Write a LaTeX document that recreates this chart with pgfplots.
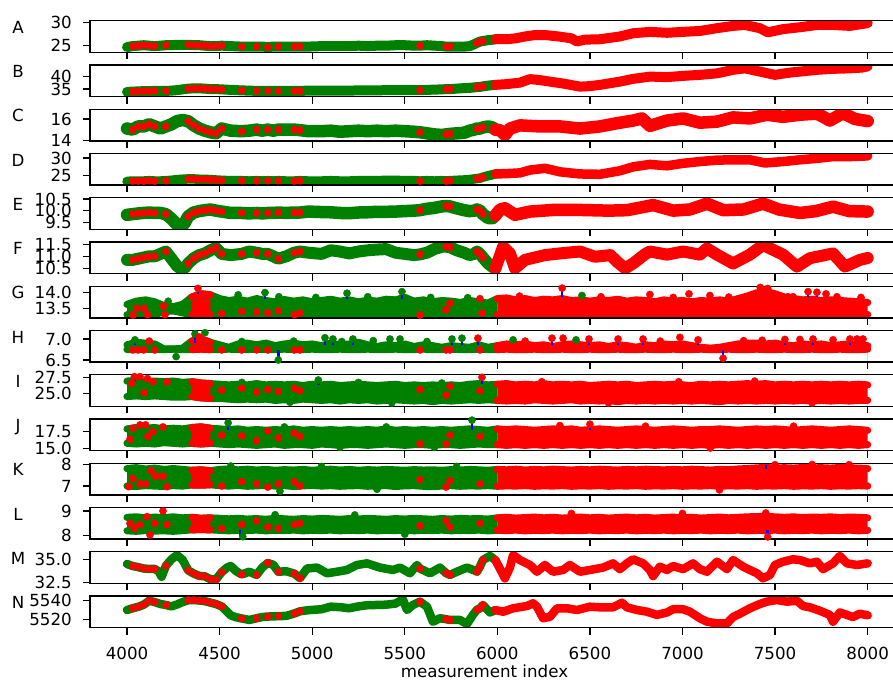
\documentclass[border=0pt]{standalone}
\usepackage{fontspec}
\setmainfont{DejaVu Sans}
\usepackage{pgfplots}
\usepackage{pgfplotstable}
\pgfplotsset{compat=1.18}
\definecolor{cG}{RGB}{0,128,0}
\definecolor{cR}{RGB}{255,0,0}
\definecolor{cB}{RGB}{0,0,255}

\pgfplotsset{
 panel/.style={
   scale only axis, width=814.7bp, height=31.7bp,
   anchor=north west,
   xmin=3800, xmax=8200,
   xtick={4000,4500,5000,5500,6000,6500,7000,7500,8000},
   xticklabels={},
   tick align=outside, xtick pos=left, ytick pos=left,
   major tick length=7bp,
   tick style={line width=1.3bp, black},
   axis line style={line width=1.3bp},
   tick label style={font=\fontsize{16.67bp}{20bp}\selectfont},
   yticklabel style={inner sep=0pt, xshift=-11bp},
   xticklabel style={inner sep=0pt, yshift=-12bp},
   /pgf/number format/assume math mode=true,
   clip mode=global,
   axis on top,
 },
 sc/.style={line width=7.2bp, line join=round, line cap=round},
}
\tikzset{lab/.style={font=\fontsize{16.67bp}{20bp}\selectfont, anchor=base, inner sep=0pt}}

\newcommand{\LP}[2]{%
\addplot[cG, line width=#2, line join=round, line cap=round, restrict x to domain=3990:5995] table[x=x,y=y] {#1};
\addplot[cR, line width=#2, line join=round, line cap=round, restrict x to domain=5985:8010] table[x=x,y=y] {#1};
\addplot[cR, only marks, mark=*, mark size=3.6bp, mark options={fill=cR, draw=cR}, restrict expr to domain={\thisrow{r}}{1:1}] table[x=x,y=y] {#1};
}
\newcommand{\NP}[1]{%
\addplot[draw=none, fill=cG, restrict x to domain=3990:6001] table[x=x,y=hi] {#1} \closedcycle;
\addplot[draw=none, fill=cR, restrict x to domain=5999:8010] table[x=x,y=hi] {#1} \closedcycle;
\addplot[draw=none, fill=cR, restrict x to domain=4340:4460] table[x=x,y=hi] {#1} \closedcycle;
\addplot[draw=none, fill=white] table[x=x,y=lo] {#1} \closedcycle;
\addplot[cG, sc, restrict x to domain=3990:6000] table[x=x,y=hi] {#1};
\addplot[cG, sc, restrict x to domain=3990:6000] table[x=x,y=lo] {#1};
\addplot[cR, sc, restrict x to domain=6000:8010] table[x=x,y=hi] {#1};
\addplot[cR, sc, restrict x to domain=6000:8010] table[x=x,y=lo] {#1};
\addplot[cR, sc, restrict x to domain=4340:4460] table[x=x,y=hi] {#1};
\addplot[cR, sc, restrict x to domain=4340:4460] table[x=x,y=lo] {#1};
}
\newcommand{\Dots}[2]{\addplot[#1, only marks, mark=*, mark size=3.6bp, mark options={fill=#1, draw=#1}] coordinates {#2};}
\newcommand{\Stems}[1]{\addplot[cB, line width=2.4bp, unbounded coords=jump] coordinates {#1};}

% ---------- data ----------
\pgfplotstableread{
x y r
4000 24.7 0
4030 24.9 1
4060 25.0 1
4090 25.1 1
4120 25.0 1
4150 24.9 1
4180 25.0 0
4210 25.1 1
4240 25.1 0
4270 25.2 0
4300 25.2 0
4330 25.2 1
4360 25.1 1
4390 25.1 1
4420 25.0 1
4450 24.9 1
4480 24.9 1
4511 25.0 1
4560 24.9 0
4619 24.8 1
4660 24.8 0
4700 24.8 1
4730 24.8 0
4760 24.7 1
4790 24.8 0
4817 24.8 1
4860 24.8 0
4903 24.8 1
4934 24.8 1
4980 24.8 0
5050 24.9 0
5100 24.9 0
5150 24.9 0
5200 24.9 0
5250 25.0 0
5300 24.9 0
5350 25.0 0
5400 25.0 0
5450 25.1 0
5500 25.1 0
5550 25.0 0
5582 25.0 1
5620 25.1 0
5660 25.0 0
5700 24.9 0
5723 24.8 1
5744 24.8 1
5780 24.8 0
5820 24.8 0
5850 24.9 0
5875 25.3 0
5890 25.6 1
5906 25.9 1
5922 26.0 1
5950 26.2 0
5975 26.3 0
5990 26.4 0
6050 26.4 0
6100 26.6 0
6150 27.0 0
6200 27.3 0
6260 27.3 0
6330 27.0 0
6400 26.6 0
6430 25.9 0
6470 26.3 0
6554 26.4 0
6662 27.0 0
6733 27.7 0
6824 28.0 0
6916 27.8 0
7003 28.0 0
7094 28.2 0
7186 28.8 0
7273 29.3 0
7337 29.5 0
7418 28.8 0
7461 27.9 0
7543 28.6 0
7634 29.0 0
7726 29.5 0
7813 29.5 0
7904 29.3 0
7969 29.7 0
8000 29.9 0
}\tA

\pgfplotstableread{
x y r
4000 33.9 0
4030 34.0 1
4060 34.1 1
4090 34.2 1
4120 34.2 1
4150 34.3 1
4180 34.3 0
4210 34.3 1
4240 34.4 0
4270 34.6 0
4300 34.9 0
4330 35.2 1
4360 35.3 1
4390 35.3 1
4420 35.2 1
4450 35.0 1
4480 35.0 1
4511 34.9 1
4560 34.7 0
4619 34.5 1
4660 34.4 0
4700 34.3 1
4730 34.3 0
4760 34.3 1
4790 34.3 0
4817 34.3 1
4860 34.3 0
4903 34.3 1
4934 34.3 1
4980 34.4 0
5050 34.4 0
5100 34.4 0
5150 34.4 0
5200 34.4 0
5250 34.5 0
5300 34.5 0
5350 34.5 0
5400 34.6 0
5450 34.6 0
5500 34.6 0
5550 34.6 0
5582 34.6 1
5620 34.7 0
5660 34.8 0
5700 34.9 0
5723 35.0 1
5744 35.0 1
5780 35.2 0
5820 35.4 0
5850 35.5 0
5875 35.7 0
5890 35.8 1
5906 35.9 1
5922 36.1 1
5950 36.4 0
5975 36.6 0
5990 36.7 0
6050 37.0 0
6122 37.6 0
6176 39.0 0
6230 38.6 0
6284 38.0 0
6350 37.3 0
6446 36.0 0
6500 36.2 0
6554 36.7 0
6662 38.0 0
6733 39.1 0
6824 40.0 0
6916 39.8 0
7003 40.3 0
7094 40.7 0
7186 41.3 0
7273 42.7 0
7337 43.3 0
7418 42.0 0
7499 40.7 0
7580 41.6 0
7634 42.0 0
7726 42.7 0
7813 43.1 0
7904 43.3 0
7969 43.6 0
8000 44.1 0
}\tB

\pgfplotstableread{
x y r
4000 15.1 0
4030 15.0 1
4060 15.3 1
4090 15.3 1
4120 15.5 1
4150 15.3 1
4180 15.1 0
4210 15.3 1
4240 15.5 0
4270 15.8 0
4300 15.9 0
4330 15.8 1
4360 15.4 1
4390 15.1 1
4420 14.9 1
4450 14.75 1
4480 14.65 1
4511 15.1 1
4560 14.9 0
4619 14.85 1
4660 14.9 0
4700 15.0 1
4730 14.9 0
4760 15.0 1
4790 14.9 0
4817 15.0 1
4860 15.0 0
4903 15.0 1
4934 14.95 1
4980 14.85 0
5050 14.85 0
5100 14.9 0
5150 14.8 0
5200 14.85 0
5250 14.9 0
5300 14.85 0
5350 14.9 0
5400 14.85 0
5450 14.9 0
5500 14.85 0
5550 14.8 0
5582 14.75 1
5620 14.65 0
5660 14.55 0
5700 14.5 0
5723 14.55 1
5744 14.6 1
5780 14.65 0
5820 14.7 0
5850 14.9 0
5875 15.0 0
5890 15.1 1
5906 15.1 1
5922 15.2 1
5950 15.3 0
5975 15.2 0
5990 15.0 0
6014 14.95 0
6041 14.5 0
6068 15.1 0
6122 15.4 0
6176 15.35 0
6230 15.3 0
6338 15.3 0
6446 15.1 0
6554 15.3 0
6646 15.6 0
6733 15.85 0
6781 16.05 0
6824 15.35 0
6916 15.85 0
7003 16.05 0
7094 15.65 0
7186 15.75 0
7273 16.15 0
7364 16.05 0
7456 16.4 0
7543 16.2 0
7634 16.4 0
7726 16.5 0
7760 16.2 0
7796 15.85 0
7866 16.55 0
7931 16.0 0
8000 15.8 0
}\tC

\pgfplotstableread{
x y r
4000 23.4 0
4030 23.5 1
4060 23.5 1
4090 23.5 1
4120 23.6 1
4150 23.5 1
4180 23.5 0
4210 23.6 1
4240 23.7 0
4270 23.9 0
4300 24.0 0
4330 24.1 1
4360 24.1 1
4390 24.0 1
4420 24.0 1
4450 23.9 1
4480 23.8 1
4511 23.7 1
4560 23.6 0
4619 23.6 1
4660 23.5 0
4700 23.6 1
4730 23.5 0
4760 23.6 1
4790 23.5 0
4817 23.6 1
4860 23.5 0
4903 23.5 1
4934 23.6 1
4980 23.5 0
5050 23.5 0
5100 23.6 0
5150 23.5 0
5200 23.5 0
5250 23.6 0
5300 23.6 0
5350 23.6 0
5400 23.7 0
5450 23.7 0
5500 23.6 0
5550 23.6 0
5582 23.5 1
5620 23.6 0
5660 23.5 0
5700 23.6 0
5723 23.5 1
5744 23.6 1
5780 23.7 0
5820 23.8 0
5850 23.9 0
5875 24.1 0
5890 24.2 1
5906 24.3 1
5922 24.6 1
5950 25.0 0
5975 25.3 0
5990 25.5 0
6050 25.6 0
6122 25.8 0
6176 26.6 0
6257 27.1 0
6338 26.1 0
6446 25.5 0
6554 25.4 0
6662 26.4 0
6733 27.5 0
6824 28.2 0
6916 27.8 0
7003 28.5 0
7094 29.0 0
7186 29.4 0
7273 29.5 0
7364 29.5 0
7445 28.6 0
7543 29.0 0
7634 29.5 0
7726 29.9 0
7813 30.4 0
7904 30.4 0
8000 30.6 0
}\tD

\pgfplotstableread{
x y r
4000 9.82 0
4030 9.85 1
4060 9.88 1
4090 9.90 1
4120 9.92 1
4150 9.90 1
4180 9.90 0
4210 9.85 1
4240 9.65 0
4270 9.40 0
4290 9.32 0
4310 9.45 0
4330 9.75 1
4360 9.92 1
4390 9.98 1
4420 10.02 1
4450 10.05 1
4480 10.00 1
4511 9.96 1
4560 9.90 0
4619 9.90 1
4660 9.88 0
4700 9.90 1
4730 9.88 0
4760 9.90 1
4790 9.90 0
4817 9.92 1
4860 9.90 0
4903 9.92 1
4934 9.92 1
4980 9.96 0
5050 9.94 0
5100 9.93 0
5150 9.90 0
5200 9.89 0
5250 9.92 0
5300 9.93 0
5350 9.95 0
5400 9.95 0
5450 9.96 0
5500 9.98 0
5550 10.00 0
5582 10.02 1
5620 10.08 0
5660 10.12 0
5700 10.18 0
5723 10.20 1
5744 10.18 1
5780 10.10 0
5820 10.02 0
5850 9.98 0
5875 10.00 0
5890 10.05 1
5906 10.00 1
5922 9.85 1
5950 9.68 0
5975 9.68 0
5990 9.80 0
6015 10.05 0
6041 10.10 0
6095 9.82 0
6176 9.96 0
6300 10.03 0
6450 10.03 0
6600 10.00 0
6700 10.02 0
6841 10.24 0
6950 10.00 0
7040 10.05 0
7132 10.30 0
7220 10.02 0
7330 10.05 0
7435 10.30 0
7520 10.05 0
7634 9.90 0
7720 9.98 0
7813 10.17 0
7900 9.98 0
8000 9.96 0
}\tE

\pgfplotstableread{
x y r
4000 10.85 0
4030 10.85 1
4060 10.90 1
4090 10.95 1
4120 11.00 1
4150 11.00 1
4180 11.10 0
4210 11.20 1
4240 10.90 0
4270 10.60 0
4290 10.48 0
4310 10.50 0
4330 10.70 1
4360 10.92 1
4390 11.05 1
4420 11.12 1
4450 11.25 1
4480 11.35 1
4511 11.10 1
4560 11.05 0
4619 11.10 1
4660 11.20 0
4700 11.15 1
4730 11.10 0
4760 11.10 1
4790 11.00 0
4817 10.90 1
4860 11.00 0
4903 11.15 1
4934 11.20 1
4980 11.15 0
5050 11.10 0
5100 11.25 0
5150 11.20 0
5200 11.12 0
5250 11.20 0
5300 11.25 0
5350 11.28 0
5400 11.30 0
5450 11.15 0
5500 11.10 0
5550 11.05 0
5582 11.08 1
5620 11.15 0
5660 11.30 0
5700 11.40 0
5723 11.40 1
5744 11.38 1
5780 11.25 0
5820 11.15 0
5850 11.05 0
5875 11.10 0
5890 11.20 1
5906 11.10 1
5922 10.95 1
5950 10.70 0
5975 10.55 0
5990 10.50 0
6031 11.40 0
6068 11.12 0
6095 10.50 0
6149 10.85 0
6257 11.05 0
6338 11.12 0
6446 11.20 0
6527 10.98 0
6610 11.05 0
6650 10.75 0
6690 10.50 0
6733 10.70 0
6800 11.10 0
6824 11.20 0
6916 11.07 0
7003 11.20 0
7094 11.07 0
7132 11.33 0
7186 11.07 0
7273 10.70 0
7364 11.07 0
7435 11.47 0
7543 11.07 0
7618 10.57 0
7688 10.92 0
7813 11.12 0
7877 10.57 0
7958 10.85 0
8000 10.93 0
}\tF

\pgfplotstableread{
x lo hi
4000 13.30 13.62
4050 13.30 13.72
4100 13.30 13.76
4150 13.30 13.70
4200 13.40 13.58
4250 13.42 13.55
4300 13.36 13.62
4350 13.30 13.85
4400 13.30 13.95
4450 13.30 13.92
4500 13.30 13.80
4550 13.30 13.74
4600 13.30 13.78
4650 13.30 13.72
4700 13.30 13.80
4750 13.30 13.74
4800 13.30 13.70
4850 13.30 13.77
4900 13.30 13.72
4950 13.30 13.76
5000 13.30 13.70
5050 13.30 13.74
5100 13.30 13.78
5150 13.30 13.72
5200 13.30 13.76
5250 13.30 13.70
5300 13.30 13.75
5350 13.30 13.72
5400 13.30 13.78
5450 13.30 13.76
5500 13.30 13.84
5550 13.30 13.72
5600 13.30 13.76
5650 13.30 13.70
5700 13.30 13.74
5750 13.30 13.72
5800 13.30 13.68
5850 13.30 13.74
5900 13.30 13.70
5950 13.30 13.66
6000 13.30 13.80
6050 13.30 13.82
6100 13.30 13.76
6150 13.30 13.80
6200 13.30 13.74
6250 13.30 13.78
6300 13.30 13.76
6350 13.30 13.80
6400 13.30 13.74
6450 13.30 13.76
6500 13.30 13.72
6550 13.30 13.76
6600 13.30 13.74
6650 13.30 13.78
6700 13.30 13.72
6750 13.30 13.76
6800 13.30 13.74
6850 13.30 13.70
6900 13.30 13.76
6950 13.30 13.72
7000 13.30 13.74
7050 13.30 13.70
7100 13.30 13.74
7150 13.30 13.72
7200 13.30 13.76
7250 13.30 13.72
7300 13.30 13.80
7350 13.30 13.88
7400 13.30 13.98
7450 13.30 14.02
7500 13.30 13.95
7550 13.30 13.85
7600 13.30 13.80
7650 13.30 13.76
7700 13.30 13.78
7750 13.30 13.74
7800 13.30 13.76
7850 13.30 13.74
7900 13.30 13.72
7950 13.30 13.70
8000 13.30 13.68
}\tG

\pgfplotstableread{
x lo hi
4000 6.75 6.86
4050 6.75 6.92
4100 6.76 6.90
4150 6.75 6.88
4200 6.75 6.76
4250 6.76 6.76
4300 6.75 6.78
4350 6.75 6.95
4400 6.76 7.00
4450 6.75 6.92
4500 6.75 6.86
4550 6.76 6.80
4600 6.75 6.88
4650 6.75 6.90
4700 6.76 6.86
4750 6.75 6.90
4800 6.75 6.84
4850 6.76 6.88
4900 6.75 6.90
4950 6.75 6.86
5000 6.76 6.88
5050 6.75 6.84
5100 6.75 6.90
5150 6.76 6.86
5200 6.75 6.88
5250 6.75 6.92
5300 6.76 6.86
5350 6.75 6.82
5400 6.75 6.86
5450 6.76 6.84
5500 6.75 6.88
5550 6.75 6.82
5600 6.76 6.86
5650 6.75 6.84
5700 6.75 6.80
5750 6.76 6.84
5800 6.75 6.82
5850 6.75 6.80
5900 6.76 6.86
5950 6.75 6.80
6000 6.75 6.84
6050 6.76 6.88
6100 6.75 6.86
6150 6.75 6.88
6200 6.76 6.84
6250 6.75 6.86
6300 6.75 6.82
6350 6.76 6.86
6400 6.75 6.88
6450 6.75 6.86
6500 6.76 6.84
6550 6.75 6.86
6600 6.75 6.82
6650 6.76 6.86
6700 6.75 6.84
6750 6.75 6.80
6800 6.76 6.86
6850 6.75 6.84
6900 6.75 6.88
6950 6.76 6.86
7000 6.75 6.88
7050 6.75 6.84
7100 6.76 6.80
7150 6.75 6.78
7200 6.75 6.80
7250 6.76 6.84
7300 6.75 6.88
7350 6.75 6.90
7400 6.76 6.90
7450 6.75 6.88
7500 6.75 6.90
7550 6.76 6.86
7600 6.75 6.84
7650 6.75 6.88
7700 6.76 6.86
7750 6.75 6.88
7800 6.75 6.84
7850 6.76 6.86
7900 6.75 6.88
7950 6.75 6.86
8000 6.76 6.84
}\tH

\pgfplotstableread{
x lo hi
4000 24.5 26.9
4050 24.6 27.0
4100 24.5 26.8
4150 24.6 26.9
4200 24.5 26.8
4250 24.4 26.9
4300 24.4 26.7
4350 24.5 26.8
4400 24.3 26.6
4450 24.2 26.5
4500 24.2 26.4
4550 24.1 26.3
4600 24.0 26.4
4650 24.1 26.3
4700 24.0 26.5
4750 24.1 26.3
4800 23.9 26.4
4850 24.0 26.3
4900 23.9 26.4
4950 24.1 26.2
5000 24.0 26.4
5050 23.9 26.3
5100 24.0 26.4
5150 23.8 26.2
5200 24.0 26.3
5250 23.9 26.4
5300 24.0 26.3
5350 23.8 26.2
5400 23.9 26.3
5450 24.0 26.4
5500 23.9 26.2
5550 23.8 26.3
5600 23.9 26.2
5650 23.7 26.3
5700 23.9 26.2
5750 23.8 26.3
5800 23.9 26.2
5850 24.0 26.4
5900 23.9 26.5
5950 24.0 26.3
6000 23.9 26.4
6050 23.8 26.5
6100 23.9 26.3
6150 23.8 26.4
6200 24.0 26.3
6250 23.9 26.5
6300 23.8 26.3
6350 23.9 26.4
6400 24.0 26.3
6450 23.8 26.4
6500 23.9 26.2
6550 23.8 26.3
6600 23.9 26.4
6650 23.7 26.3
6700 23.9 26.4
6750 23.8 26.2
6800 23.9 26.3
6850 23.8 26.4
6900 23.9 26.3
6950 23.8 26.4
7000 23.9 26.3
7050 23.8 26.2
7100 23.9 26.4
7150 23.8 26.3
7200 23.7 26.4
7250 23.9 26.3
7300 23.8 26.4
7350 23.9 26.5
7400 23.8 26.4
7450 23.9 26.5
7500 23.8 26.3
7550 23.9 26.4
7600 23.8 26.3
7650 23.9 26.4
7700 23.8 26.3
7750 23.9 26.4
7800 23.8 26.3
7850 23.9 26.4
7900 23.8 26.3
7950 23.9 26.4
8000 23.9 26.3
}\tI

\pgfplotstableread{
x lo hi
4000 15.8 17.9
4050 15.7 18.1
4100 15.8 18.0
4150 15.7 18.1
4200 15.9 17.9
4250 15.8 18.0
4300 15.7 17.9
4350 15.8 18.1
4400 15.7 18.2
4450 15.8 18.0
4500 15.7 17.9
4550 15.6 17.8
4600 15.7 17.9
4650 15.6 17.7
4700 15.5 17.8
4750 15.6 17.7
4800 15.7 17.8
4850 15.5 17.7
4900 15.6 17.9
4950 15.6 17.7
5000 15.5 17.8
5050 15.7 17.7
5100 15.6 17.8
5150 15.5 17.7
5200 15.6 17.8
5250 15.6 17.7
5300 15.5 17.8
5350 15.6 17.7
5400 15.7 17.9
5450 15.6 17.7
5500 15.5 17.8
5550 15.6 17.7
5600 15.6 17.8
5650 15.5 17.7
5700 15.6 17.8
5750 15.6 17.7
5800 15.5 17.8
5850 15.6 17.9
5900 15.7 17.8
5950 15.6 17.7
6000 15.6 17.9
6050 15.5 17.8
6100 15.6 17.9
6150 15.5 17.8
6200 15.6 17.7
6250 15.5 17.8
6300 15.6 17.9
6350 15.5 17.8
6400 15.6 17.9
6450 15.5 17.7
6500 15.6 17.8
6550 15.5 17.9
6600 15.6 17.8
6650 15.5 17.7
6700 15.6 17.8
6750 15.5 17.9
6800 15.6 17.8
6850 15.5 17.7
6900 15.6 17.8
6950 15.5 17.9
7000 15.6 17.8
7050 15.5 17.7
7100 15.6 17.8
7150 15.5 17.8
7200 15.6 17.9
7250 15.5 17.8
7300 15.6 17.7
7350 15.5 17.8
7400 15.6 17.9
7450 15.5 17.8
7500 15.6 17.9
7550 15.5 17.8
7600 15.6 17.7
7650 15.5 17.8
7700 15.6 17.9
7750 15.5 17.8
7800 15.6 17.7
7850 15.5 17.8
7900 15.6 17.9
7950 15.5 17.8
8000 15.6 17.7
}\tJ

\pgfplotstableread{
x lo hi
4000 7.00 7.80
4050 6.98 7.84
4100 7.02 7.78
4150 7.00 7.82
4200 6.98 7.76
4250 7.02 7.80
4300 7.00 7.76
4350 7.05 7.72
4400 7.04 7.74
4450 7.06 7.70
4500 7.02 7.76
4550 7.00 7.78
4600 7.03 7.74
4650 6.99 7.77
4700 7.01 7.73
4750 7.03 7.76
4800 7.00 7.72
4850 7.02 7.75
4900 6.98 7.73
4950 7.01 7.76
5000 7.03 7.72
5050 7.00 7.75
5100 7.02 7.77
5150 6.99 7.73
5200 7.01 7.76
5250 7.02 7.72
5300 6.99 7.75
5350 7.01 7.73
5400 7.02 7.76
5450 6.98 7.74
5500 7.01 7.72
5550 7.02 7.75
5600 6.99 7.73
5650 6.97 7.74
5700 7.00 7.72
5750 7.02 7.75
5800 6.99 7.73
5850 7.01 7.76
5900 7.00 7.74
5950 7.02 7.72
6000 6.99 7.76
6050 7.01 7.74
6100 7.00 7.77
6150 7.02 7.73
6200 6.99 7.76
6250 7.01 7.74
6300 7.00 7.77
6350 7.02 7.75
6400 6.99 7.73
6450 7.01 7.76
6500 7.00 7.74
6550 7.02 7.77
6600 6.99 7.75
6650 7.01 7.73
6700 7.00 7.76
6750 7.02 7.74
6800 6.99 7.77
6850 7.01 7.75
6900 7.00 7.74
6950 7.02 7.76
7000 6.99 7.74
7050 7.01 7.77
7100 7.00 7.75
7150 7.02 7.73
7200 6.99 7.76
7250 7.01 7.75
7300 7.00 7.78
7350 7.02 7.80
7400 6.99 7.83
7450 7.01 7.85
7500 7.00 7.82
7550 7.02 7.84
7600 6.99 7.82
7650 7.01 7.85
7700 7.00 7.83
7750 7.02 7.84
7800 6.99 7.82
7850 7.01 7.85
7900 7.00 7.83
7950 7.02 7.82
8000 7.00 7.80
}\tK

\pgfplotstableread{
x lo hi
4000 8.20 8.74
4050 8.18 8.76
4100 8.21 8.72
4150 8.19 8.75
4200 8.20 8.73
4250 8.18 8.76
4300 8.21 8.72
4350 8.24 8.74
4400 8.25 8.70
4450 8.24 8.72
4500 8.22 8.70
4550 8.20 8.68
4600 8.22 8.70
4650 8.21 8.67
4700 8.23 8.69
4750 8.20 8.66
4800 8.22 8.70
4850 8.21 8.68
4900 8.23 8.66
4950 8.20 8.69
5000 8.22 8.67
5050 8.21 8.70
5100 8.23 8.68
5150 8.20 8.66
5200 8.22 8.69
5250 8.21 8.67
5300 8.23 8.70
5350 8.20 8.68
5400 8.22 8.66
5450 8.21 8.69
5500 8.23 8.67
5550 8.20 8.70
5600 8.22 8.68
5650 8.21 8.66
5700 8.23 8.69
5750 8.20 8.67
5800 8.22 8.70
5850 8.21 8.68
5900 8.23 8.69
5950 8.20 8.67
6000 8.22 8.72
6050 8.21 8.74
6100 8.23 8.71
6150 8.20 8.73
6200 8.22 8.75
6250 8.21 8.72
6300 8.23 8.74
6350 8.20 8.71
6400 8.22 8.73
6450 8.21 8.75
6500 8.23 8.72
6550 8.20 8.74
6600 8.22 8.71
6650 8.21 8.73
6700 8.23 8.75
6750 8.20 8.72
6800 8.22 8.74
6850 8.21 8.71
6900 8.23 8.73
6950 8.20 8.75
7000 8.22 8.72
7050 8.21 8.74
7100 8.23 8.71
7150 8.20 8.73
7200 8.22 8.75
7250 8.21 8.72
7300 8.23 8.74
7350 8.20 8.76
7400 8.22 8.77
7450 8.21 8.78
7500 8.23 8.76
7550 8.20 8.74
7600 8.22 8.76
7650 8.21 8.73
7700 8.23 8.75
7750 8.20 8.74
7800 8.22 8.76
7850 8.21 8.73
7900 8.23 8.75
7950 8.20 8.74
8000 8.22 8.72
}\tL

\pgfplotstableread{
x y r
4000 34.49 0
4030 34.27 1
4060 34.15 1
4090 34.00 1
4120 33.95 1
4150 33.95 1
4170 33.70 0
4187 33.10 0
4210 34.30 1
4240 35.00 0
4270 35.45 0
4300 34.95 0
4330 33.80 1
4360 33.45 1
4390 33.20 1
4420 33.15 1
4450 32.85 1
4480 32.80 1
4511 33.60 1
4540 34.10 0
4560 34.27 0
4590 33.70 0
4619 33.35 1
4660 33.65 0
4700 33.30 1
4730 34.10 0
4760 34.60 1
4790 34.40 0
4817 33.65 1
4860 33.70 0
4903 33.45 1
4934 32.95 1
4972 34.00 0
5026 34.10 0
5080 33.48 0
5134 33.65 0
5188 33.84 0
5242 34.38 0
5296 34.56 0
5366 34.10 0
5436 33.84 0
5474 34.10 0
5528 33.48 0
5566 34.38 0
5582 34.00 1
5598 33.84 0
5636 33.48 0
5690 34.10 0
5723 33.50 1
5744 33.30 1
5782 33.65 0
5836 34.10 0
5875 33.80 0
5890 33.65 1
5906 34.20 1
5922 34.92 1
5960 35.36 0
5990 34.90 0
6041 32.93 0
6068 34.10 0
6085 35.47 0
6122 34.92 0
6176 34.38 0
6214 33.65 0
6257 34.38 0
6301 33.65 0
6355 33.84 0
6392 34.38 0
6446 33.65 0
6500 33.84 0
6571 34.10 0
6625 34.56 0
6662 33.93 0
6700 34.56 0
6733 35.00 0
6787 34.56 0
6824 33.84 0
6841 33.18 0
6878 34.20 0
6916 33.84 0
6949 34.27 0
7003 33.93 0
7057 34.56 0
7094 33.93 0
7132 33.65 0
7186 34.74 0
7240 33.93 0
7273 34.92 0
7327 34.20 0
7364 33.84 0
7402 33.48 0
7435 32.93 0
7472 33.30 0
7499 34.38 0
7543 34.74 0
7597 35.00 0
7634 34.92 0
7688 34.56 0
7726 34.74 0
7759 33.93 0
7813 34.56 0
7850 35.36 0
7888 34.56 0
7942 34.38 0
8000 34.56 0
}\tM

\pgfplotstableread{
x y r
4000 5530.2 0
4030 5532.0 1
4060 5533.5 1
4090 5535.8 1
4120 5540.0 1
4150 5538.5 1
4180 5536.5 0
4210 5535.5 1
4240 5534.0 0
4270 5536.0 0
4300 5538.5 0
4330 5540.5 1
4360 5540.7 1
4390 5540.2 1
4420 5539.5 1
4450 5538.0 1
4480 5536.5 1
4511 5534.0 1
4540 5528.5 0
4560 5524.5 0
4590 5522.5 0
4619 5521.3 1
4660 5519.7 0
4700 5521.5 1
4730 5522.8 0
4760 5523.3 1
4790 5523.5 0
4817 5523.7 1
4860 5524.0 0
4903 5526.5 1
4934 5528.8 1
4980 5530.0 0
5050 5531.0 0
5100 5533.7 0
5150 5533.2 0
5200 5532.0 0
5250 5534.0 0
5300 5535.3 0
5350 5535.5 0
5400 5535.8 0
5450 5537.0 0
5490 5541.4 0
5512 5530.2 0
5544 5535.5 0
5582 5539.0 1
5620 5533.7 0
5652 5517.9 0
5690 5521.5 0
5723 5520.5 1
5744 5519.7 1
5798 5519.7 0
5836 5515.5 0
5868 5525.0 0
5890 5530.5 1
5906 5532.0 1
5922 5535.5 1
5960 5527.6 0
5990 5530.2 0
6031 5528.4 0
6085 5532.0 0
6160 5534.4 0
6193 5537.3 0
6214 5533.7 0
6247 5521.5 0
6284 5523.0 0
6322 5532.0 0
6376 5532.0 0
6430 5530.2 0
6500 5533.7 0
6554 5533.0 0
6592 5533.0 0
6625 5533.0 0
6673 5537.9 0
6700 5533.0 0
6754 5530.2 0
6808 5528.4 0
6862 5525.0 0
6916 5527.6 0
6949 5531.0 0
7003 5531.0 0
7040 5528.4 0
7094 5521.5 0
7132 5517.9 0
7186 5516.1 0
7240 5516.1 0
7273 5522.8 0
7310 5526.3 0
7364 5532.0 0
7418 5536.5 0
7456 5539.0 0
7510 5540.7 0
7564 5539.0 0
7618 5539.9 0
7651 5534.4 0
7688 5533.0 0
7742 5529.4 0
7796 5525.0 0
7813 5517.9 0
7850 5527.6 0
7888 5525.0 0
7920 5522.8 0
7958 5526.3 0
8000 5524.6 0
}\tN

\begin{document}
\begin{tikzpicture}[x=1bp,y=1bp]
% A
\begin{axis}[panel, at={(90bp,659.3bp)}, ymin=23.54, ymax=30.43, ytick={25,30}, yticklabels={25,30}]
\LP{\tA}{10bp}
\end{axis}
% B
\begin{axis}[panel, at={(90bp,615.05bp)}, ymin=32.0, ymax=44.66, ytick={35,40}, yticklabels={35,40}]
\LP{\tB}{10bp}
\end{axis}
% C
\begin{axis}[panel, at={(90bp,570.8bp)}, ymin=13.94, ymax=16.92, ytick={14,16}, yticklabels={14,16}]
\LP{\tC}{12.5bp}
\end{axis}
% D
\begin{axis}[panel, at={(90bp,526.55bp)}, ymin=22.34, ymax=31.29, ytick={25,30}, yticklabels={25,30}]
\LP{\tD}{9.5bp}
\end{axis}
% E
\begin{axis}[panel, at={(90bp,482.3bp)}, ymin=9.195, ymax=10.556, ytick={9.5,10,10.5}, yticklabels={9.5,10.0,10.5}]
\LP{\tE}{12.5bp}
\end{axis}
% F
\begin{axis}[panel, at={(90bp,438.05bp)}, ymin=10.277, ymax=11.598, ytick={10.5,11,11.5}, yticklabels={10.5,11.0,11.5}]
\LP{\tF}{12bp}
\end{axis}
% G
\begin{axis}[panel, at={(90bp,393.8bp)}, ymin=13.2, ymax=14.19, ytick={13.5,14}, yticklabels={13.5,14.0}]
\NP{\tG}
\Stems{(4745,13.8) (4745,13.99) (4745,nan) (5188,13.8) (5188,13.97) (5188,nan) (5485,13.8) (5485,14.02) (5485,nan) (6350,13.85) (6350,14.13) (6350,nan) (6457,13.8) (6457,13.9) (6457,nan) (7678,13.85) (7678,14.02) (7678,nan) (7726,13.85) (7726,14.0) (7726,nan) (4383,13.95) (4383,14.12)}
\Dots{cG}{(4600,13.92) (4745,13.99) (5188,13.97) (5485,14.02) (4222,13.72) (6457,13.9) (4820,13.86) (5020,13.84) (5300,13.86) (5640,13.84) (5840,13.83)}
\Dots{cR}{(4032,13.29) (4054,13.50) (4092,13.50) (4110,13.30) (4197,13.57) (4205,13.30) (4383,14.12) (4511,13.34) (4619,13.40) (4700,13.39) (4760,13.36) (4817,13.42) (4903,13.30) (4934,13.35) (5582,13.29) (5721,13.45) (5744,13.66) (5906,13.80) (5917,13.35) (6350,14.13) (6824,13.93) (7035,13.95) (7148,13.90) (7570,13.86) (7597,13.86) (7678,14.02) (7726,14.00) (7775,13.95) (7834,13.86) (7964,13.84) (7420,14.15) (7460,14.12) (6120,13.88) (6560,13.86) (6950,13.84) (7250,13.85)}
\end{axis}
% H
\begin{axis}[panel, at={(90bp,349.55bp)}, ymin=6.449, ymax=7.204, ytick={6.5,7}, yticklabels={6.5,7.0}]
\NP{\tH}
\Stems{(4043,6.85) (4043,6.98) (4043,nan) (4367,6.9) (4367,7.12) (4367,nan) (5069,6.85) (5069,7.03) (5069,nan) (5112,6.85) (5112,7.0) (5112,nan) (5220,6.85) (5220,7.0) (5220,nan) (5755,6.85) (5755,7.0) (5755,nan) (5809,6.85) (5809,7.02) (5809,nan) (5895,6.85) (5895,7.02) (5895,nan) (6295,6.85) (6295,7.02) (6295,nan) (6495,6.85) (6495,7.0) (6495,nan) (6652,6.85) (6652,7.0) (6652,nan) (6787,6.85) (6787,7.0) (6787,nan) (7084,6.85) (7084,6.98) (7084,nan) (7553,6.85) (7553,6.99) (7553,nan) (7705,6.85) (7705,7.0) (7705,nan) (7904,6.85) (7904,7.0) (7904,nan) (4817,6.75) (4817,6.5) (4817,nan) (7219,6.75) (7219,6.54)}
\Dots{cG}{(4043,6.98) (4367,7.12) (4421,7.15) (5069,7.03) (5112,7.0) (5220,7.0) (5420,7.0) (5474,7.0) (5755,7.0) (5809,7.02) (6085,6.98) (6425,6.98) (4265,6.58) (4817,6.50) (4620,6.94) (4900,6.95) (5160,6.94) (5330,6.96) (5620,6.94)}
\Dots{cR}{(4120,6.95) (4390,7.05) (5895,7.02) (6295,7.02) (6355,7.02) (6495,7.0) (6652,7.0) (6787,7.0) (6986,7.04) (7084,6.98) (7553,6.99) (7634,6.99) (7705,7.0) (7813,6.98) (7904,7.0) (7942,7.0) (7975,7.0) (7219,6.54) (4030,6.74) (4060,6.74) (4090,6.74) (4150,6.74) (4511,6.74) (4619,6.74) (4700,6.74) (4760,6.74) (4903,6.74) (4934,6.74) (5582,6.74) (5723,6.74) (5744,6.74) (5906,6.74) (6150,6.95) (6880,6.95) (7330,6.96) (7430,6.97)}
\end{axis}
% I
\begin{axis}[panel, at={(90bp,305.3bp)}, ymin=22.95, ymax=27.906, ytick={25,27.5}, yticklabels={25.0,27.5}]
\NP{\tI}
\Stems{(5033,26.3) (5033,27.08) (5033,nan) (5917,26.4) (5917,27.5) (5917,nan) (4040,26.9) (4040,27.6)}
\Dots{cG}{(5033,27.08) (4620,26.7) (4880,23.6) (5250,26.7) (5430,23.5) (5700,26.6)}
\Dots{cR}{(4025,26.56) (4040,27.6) (4070,27.6) (4092,25.1) (4110,27.3) (4140,26.8) (4216,26.8) (4511,25.5) (4619,25.8) (4700,25.2) (4760,25.6) (4817,25.3) (4903,25.8) (4934,25.4) (5582,25.6) (5723,24.7) (5744,26.1) (5906,25.4) (5917,27.5) (6240,26.8) (6600,23.5) (6980,26.8) (7390,26.9) (7700,23.5)}
\end{axis}
% J
\begin{axis}[panel, at={(90bp,261.05bp)}, ymin=14.71, ymax=19.375, ytick={15,17.5}, yticklabels={15.0,17.5}]
\NP{\tJ}
\Stems{(4546,17.8) (4546,18.8) (4546,nan) (5863,17.8) (5863,19.2) (5863,nan) (6500,17.8) (6500,18.6)}
\Dots{cG}{(4546,18.8) (5863,19.2) (4850,18.2) (5150,15.2) (5400,18.2) (5660,15.2)}
\Dots{cR}{(4016,16.4) (4032,18.0) (4070,18.5) (4100,18.5) (4113,16.8) (4140,17.5) (4194,18.2) (4511,17.0) (4619,16.9) (4700,16.2) (4760,17.6) (4817,16.6) (4903,17.3) (4934,16.8) (5582,15.7) (5723,15.7) (5744,17.0) (5906,16.8) (6338,18.4) (6500,18.6) (6800,18.3) (7150,15.1) (7600,18.3)}
\end{axis}
% K
\begin{axis}[panel, at={(90bp,216.8bp)}, ymin=6.59, ymax=8.05, ytick={7,8}, yticklabels={7,8}]
\NP{\tK}
\Stems{(7200,7.0) (7200,6.82) (7200,nan) (7450,7.8) (7450,7.97)}
\Dots{cG}{(4826,6.76) (4560,7.92) (5050,7.9) (5350,6.85) (5780,7.9)}
\Dots{cR}{(4010,6.97) (4032,7.35) (4070,7.1) (4100,7.1) (4130,7.7) (4155,7.45) (4194,7.45) (4216,6.97) (4511,7.0) (4619,7.2) (4700,7.1) (4760,6.95) (4817,7.1) (4903,7.2) (4934,7.0) (5582,7.3) (5723,6.95) (5744,7.25) (5906,7.1) (7200,6.82) (7500,7.98) (7700,7.99) (7900,7.98)}
\end{axis}
% L
\begin{axis}[panel, at={(90bp,172.55bp)}, ymin=7.86, ymax=9.144, ytick={8,9}, yticklabels={8,9}]
\NP{\tL}
\Stems{(4610,8.22) (4610,7.98) (4610,nan) (7460,8.22) (7460,7.95)}
\Dots{cG}{(4625,7.96) (4800,8.85) (5230,8.84) (5500,8.06)}
\Dots{cR}{(4016,8.5) (4040,8.3) (4070,8.45) (4108,8.77) (4124,8.03) (4150,8.5) (4194,9.0) (4216,8.45) (4511,8.3) (4619,8.45) (4700,8.6) (4760,8.35) (4817,8.3) (4903,8.45) (4934,8.5) (5582,8.4) (5723,8.6) (5744,8.35) (5906,8.5) (7460,7.95) (6400,8.9) (7000,8.9) (7450,8.92)}
\end{axis}
% M
\begin{axis}[panel, at={(90bp,128.3bp)}, ymin=32.38, ymax=35.826, ytick={32.5,35}, yticklabels={32.5,35.0}]
\LP{\tM}{8.5bp}
\end{axis}
% N
\begin{axis}[panel, at={(90bp,84.05bp)}, ymin=5511.6, ymax=5545.0, ytick={5520,5540}, yticklabels={5520,5540},
  xticklabels={4000,4500,5000,5500,6000,6500,7000,7500,8000}]
\LP{\tN}{8.5bp}
\end{axis}
% row labels
\node[lab] at (18bp,646.7bp) {A};
\node[lab] at (18bp,602.45bp) {B};
\node[lab] at (18bp,558.2bp) {C};
\node[lab] at (18bp,513.95bp) {D};
\node[lab] at (18bp,469.7bp) {E};
\node[lab] at (18bp,425.45bp) {F};
\node[lab] at (18bp,381.2bp) {G};
\node[lab] at (18bp,336.95bp) {H};
\node[lab] at (18bp,292.7bp) {I};
\node[lab] at (18bp,248.45bp) {J};
\node[lab] at (18bp,204.2bp) {K};
\node[lab] at (18bp,159.95bp) {L};
\node[lab] at (18bp,115.7bp) {M};
\node[lab] at (18bp,71.45bp) {N};
\node[lab] at (484.5bp,3bp) {measurement index};
\pgfresetboundingbox
\path[use as bounding box] (0,0) rectangle (893bp,680bp);
\end{tikzpicture}
\end{document}
